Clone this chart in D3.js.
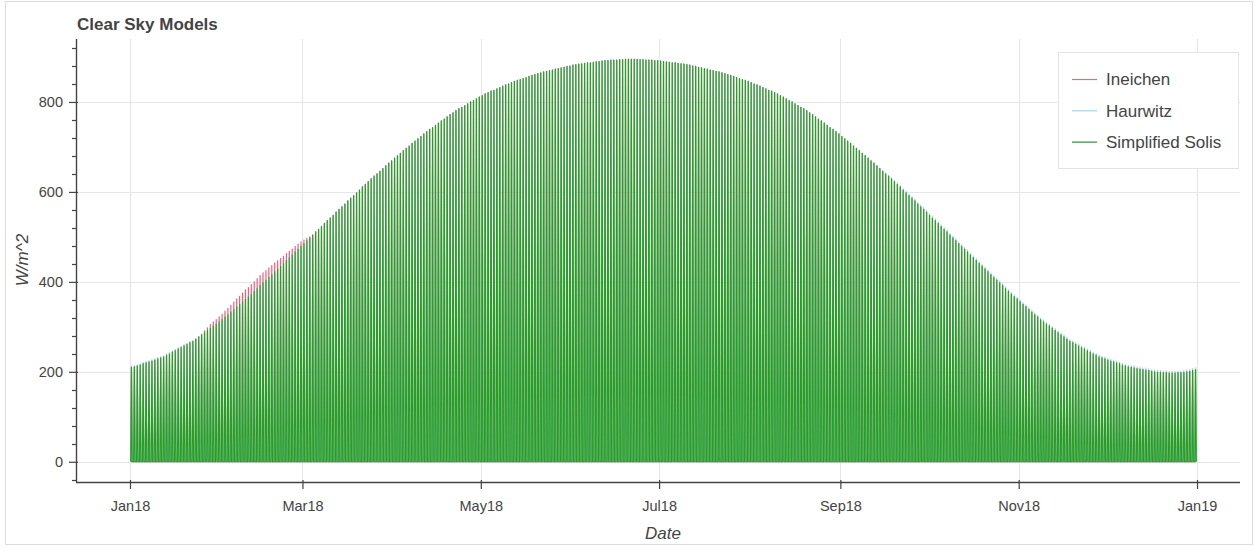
<!DOCTYPE html>
<html>
<head>
<meta charset="utf-8">
<script src="https://cdn.jsdelivr.net/npm/d3@7"></script>
<style>
  body { margin: 0; background: #fff; }
  svg { display: block; font-family: "Liberation Sans", Arial, Helvetica, sans-serif; }
</style>
</head>
<body>
<div id="chart"></div>
<script>
// Daily clear-sky peak irradiance (W/m^2), 1 Jan 2018 .. 31 Dec 2018
var startDay = "2018-01-01";

var solis = [
  210,211,213,215,218,220,222,224,226,229,231,233,237,240,244,247,251,254,258,261,265,268,273,278,282,287,292,297,302,306,311,
  316,322,327,333,339,345,350,356,362,367,373,379,385,392,398,404,410,416,423,429,435,441,448,454,460,467,473,479,
  485,492,498,504,511,517,523,530,536,542,548,555,561,567,573,580,586,592,598,604,611,617,623,629,635,640,646,652,658,664,669,
  675,681,686,692,697,702,708,713,718,723,729,734,739,743,748,753,758,762,767,772,776,781,785,788,792,796,800,803,807,811,
  814,818,821,824,826,829,832,835,838,840,843,846,848,850,852,854,857,859,861,863,865,867,868,870,871,873,874,876,877,879,880,
  882,883,884,885,886,887,887,888,889,890,891,892,892,893,893,893,894,894,895,895,895,895,895,894,894,893,893,893,892,892,
  891,890,889,888,887,887,886,885,884,883,882,880,879,877,876,874,873,871,870,868,867,865,863,861,859,857,854,852,850,848,846,
  843,840,838,835,832,829,826,824,821,818,814,811,807,803,800,796,792,788,785,781,776,772,767,762,758,753,748,743,739,734,729,
  723,718,713,708,702,697,692,686,681,675,669,664,658,652,646,640,635,629,623,617,611,604,598,592,586,580,573,567,561,555,
  548,542,536,530,523,517,511,504,498,492,485,479,473,467,460,454,448,441,435,429,423,416,410,404,398,392,385,379,373,367,362,
  356,350,345,339,333,327,322,316,311,306,302,297,292,287,282,278,273,268,265,261,258,254,251,247,244,240,237,233,231,229,
  226,224,222,220,218,215,213,211,210,209,207,206,205,204,203,201,200,199,199,198,198,197,197,197,198,198,199,200,201,203,205
];

var ineichen = [
  210,211,213,215,218,220,222,224,226,229,231,233,237,240,244,247,251,254,258,261,265,268,273,278,284,291,298,305,311,316,322,
  328,335,341,348,355,362,368,375,382,387,394,400,407,414,420,425,431,436,442,447,452,457,463,468,473,479,484,489,
  493,497,500,504,511,517,523,530,536,542,548,555,561,567,573,580,586,592,598,604,611,617,623,629,635,640,646,652,658,664,669,
  675,681,686,692,697,702,708,713,718,723,729,734,739,743,748,753,758,762,767,772,776,781,785,788,792,796,800,803,807,811,
  814,818,821,824,826,829,832,835,838,840,843,846,848,850,852,854,857,859,861,863,865,867,868,870,871,873,874,876,877,879,880,
  882,883,884,885,886,887,887,888,889,890,891,892,892,893,893,893,894,894,895,895,895,895,895,894,894,893,893,893,892,892,
  891,890,889,888,887,887,886,885,884,883,882,880,879,877,876,874,873,871,870,868,867,865,863,861,859,857,854,852,850,848,846,
  843,840,838,835,832,829,826,824,821,818,814,811,807,803,800,796,792,788,785,781,776,772,767,762,758,753,748,743,739,734,729,
  723,718,713,708,702,697,692,686,681,675,669,664,658,652,646,640,635,629,623,617,611,604,598,592,586,580,573,567,561,555,
  548,542,536,530,523,517,511,504,498,492,485,479,473,467,460,454,448,441,435,429,423,416,410,404,398,392,385,379,373,367,362,
  356,350,345,339,333,327,322,316,311,306,302,297,292,287,282,278,273,268,265,261,258,254,251,247,244,240,237,233,231,229,
  226,224,222,220,218,215,213,211,210,209,207,206,205,204,203,201,200,199,199,198,198,197,197,197,198,198,199,200,201,203,205
];

var haurwitz = [
  213,214,216,218,221,223,225,227,229,232,234,236,240,243,247,250,254,257,261,264,268,270,274,278,282,287,292,297,302,306,311,
  316,322,327,333,339,345,350,356,362,367,373,379,385,392,398,404,410,416,423,429,435,441,448,454,460,467,473,479,
  485,492,498,504,511,517,523,530,536,542,548,555,561,567,573,580,586,592,598,604,611,617,623,629,635,640,646,652,658,664,669,
  675,681,686,692,697,702,708,713,718,723,729,734,739,743,748,753,758,762,767,772,776,781,785,788,792,796,800,803,807,811,
  814,818,821,824,826,829,832,835,838,840,843,846,848,850,852,854,857,859,861,863,865,867,868,870,871,873,874,876,877,879,880,
  882,883,884,885,886,887,887,888,889,890,891,892,892,893,893,893,894,894,895,895,895,895,895,894,894,893,893,893,892,892,
  891,890,889,888,887,887,886,885,884,883,882,880,879,877,876,874,873,871,870,868,867,865,863,861,859,857,854,852,850,848,846,
  843,840,838,835,832,829,826,824,821,818,814,811,807,803,800,796,792,788,785,781,776,772,767,762,758,753,748,743,739,734,729,
  723,718,713,708,702,697,692,686,681,675,669,664,659,653,648,642,637,632,626,620,614,607,602,596,590,584,577,571,565,559,
  552,546,540,534,527,521,515,508,502,496,489,483,477,471,464,458,452,445,439,433,427,420,414,408,402,396,389,383,377,371,366,
  360,354,349,343,337,331,326,320,315,310,306,301,296,291,286,282,277,272,269,265,262,258,255,251,248,244,241,237,235,233,
  230,228,226,224,222,219,217,215,214,213,211,210,209,208,207,205,204,203,203,202,202,201,201,201,202,202,203,204,205,207,209
];

var seriesNames = ["Ineichen", "Haurwitz", "Simplified Solis"];
var seriesColors = ["#f0607a", "#a9d8e8", "#24a024"];
var legendColors = ["#d8707e", "#a9d4e0", "#2e8b3e"];
var xTickDates = ["2018-01-01", "2018-03-01", "2018-05-01", "2018-07-01", "2018-09-01", "2018-11-01", "2019-01-01"];
var yTicks = [0, 200, 400, 600, 800];

var width = 1255, height = 551;
var plot = { left: 76, right: 1240, top: 39, bottom: 482 };

var svg = d3.select("#chart").append("svg")
    .attr("width", width)
    .attr("height", height);

// thin frame round the whole figure
svg.append("rect")
    .attr("x", 5.5).attr("y", 1.5)
    .attr("width", 1247).attr("height", 543)
    .attr("fill", "none")
    .attr("stroke", "#dcdcdc");

var parse = d3.utcParse("%Y-%m-%d");
var t0 = parse(startDay);

var x = d3.scaleUtc()
    .domain([t0, parse("2019-01-01")])
    .range([130, 1197]);
var y = d3.scaleLinear()
    .domain([-45, 940])
    .range([plot.bottom, plot.top]);

// grid
svg.append("g")
    .selectAll("line")
    .data(xTickDates.map(parse))
    .join("line")
      .attr("x1", d => Math.round(x(d)) + 0.5).attr("x2", d => Math.round(x(d)) + 0.5)
      .attr("y1", plot.top).attr("y2", plot.bottom)
      .attr("stroke", "#e6e6e6");
svg.append("g")
    .selectAll("line")
    .data(yTicks)
    .join("line")
      .attr("y1", d => Math.round(y(d)) + 0.5).attr("y2", d => Math.round(y(d)) + 0.5)
      .attr("x1", plot.left).attr("x2", plot.right)
      .attr("stroke", "#e6e6e6");

// one spike per day: zero before sunrise, peak at noon, zero after sunset
function spikes(values) {
    var pts = [];
    values.forEach(function (v, i) {
        var day = d3.utcDay.offset(t0, i);
        pts.push([d3.utcHour.offset(day, 6), 0]);
        pts.push([d3.utcHour.offset(day, 12), v]);
        pts.push([d3.utcHour.offset(day, 18), 0]);
    });
    return pts;
}

var line = d3.line()
    .x(d => x(d[0]))
    .y(d => y(d[1]));

[ineichen, haurwitz, solis].forEach(function (vals, k) {
    svg.append("path")
        .datum(spikes(vals))
        .attr("fill", "none")
        .attr("stroke", seriesColors[k])
        .attr("stroke-width", 1.2)
        .attr("stroke-linejoin", "round")
        .attr("d", line);
});

// axes
var xAxis = svg.append("g")
    .attr("transform", `translate(0,${plot.bottom})`)
    .call(d3.axisBottom(x)
        .tickValues(xTickDates.map(parse))
        .tickFormat(d3.utcFormat("%b%y"))
        .tickSizeInner(7).tickSizeOuter(0).tickPadding(12));
xAxis.select(".domain").remove();
xAxis.selectAll(".tick line").attr("y1", -2).attr("stroke", "#444").attr("stroke-width", 1.2);
xAxis.selectAll("text").attr("font-size", 14.5).attr("fill", "#444").attr("font-family", "Liberation Sans, Arial, sans-serif");
svg.append("line")
    .attr("x1", plot.left).attr("x2", plot.right)
    .attr("y1", plot.bottom + 0.5).attr("y2", plot.bottom + 0.5)
    .attr("stroke", "#444").attr("stroke-width", 1.4);

var yAxis = svg.append("g")
    .attr("transform", `translate(${plot.left},0)`)
    .call(d3.axisLeft(y)
        .tickValues(yTicks)
        .tickSizeInner(7).tickSizeOuter(0).tickPadding(6));
yAxis.select(".domain").remove();
yAxis.selectAll(".tick line").attr("x1", 2).attr("stroke", "#444").attr("stroke-width", 1.2);
yAxis.selectAll("text").attr("font-size", 14.5).attr("fill", "#444").attr("font-family", "Liberation Sans, Arial, sans-serif");

// minor ticks on y
svg.append("g")
    .selectAll("line")
    .data(d3.range(-40, 941, 40).filter(v => v % 200 !== 0))
    .join("line")
      .attr("x1", plot.left - 4).attr("x2", plot.left)
      .attr("y1", d => Math.round(y(d)) + 0.5).attr("y2", d => Math.round(y(d)) + 0.5)
      .attr("stroke", "#444").attr("stroke-width", 1.2);
svg.append("line")
    .attr("x1", plot.left + 0.5).attr("x2", plot.left + 0.5)
    .attr("y1", plot.top).attr("y2", plot.bottom)
    .attr("stroke", "#444").attr("stroke-width", 1.4);

// titles
svg.append("text")
    .attr("x", 77).attr("y", 30)
    .attr("font-size", 17).attr("font-weight", "bold")
    .attr("fill", "#444")
    .text("Clear Sky Models");
svg.append("text")
    .attr("x", 663).attr("y", 539)
    .attr("text-anchor", "middle")
    .attr("font-size", 17).attr("font-style", "italic")
    .attr("fill", "#444")
    .text("Date");
svg.append("text")
    .attr("transform", "translate(28,260) rotate(-90)")
    .attr("text-anchor", "middle")
    .attr("font-size", 17).attr("font-style", "italic")
    .attr("fill", "#444")
    .text("W/m^2");

// legend
var legend = svg.append("g").attr("transform", "translate(1058,52)");
legend.append("rect")
    .attr("x", 0.5).attr("y", 0.5)
    .attr("width", 180).attr("height", 116)
    .attr("fill", "#fff")
    .attr("stroke", "#e3e3e3");
var rows = legend.selectAll("g.row")
    .data(seriesNames)
    .join("g")
      .attr("class", "row")
      .attr("transform", (d, i) => `translate(0,${27.5 + i * 31.3})`);
rows.append("line")
    .attr("x1", 14).attr("x2", 39)
    .attr("stroke", (d, i) => legendColors[i])
    .attr("stroke-width", 1.2);
rows.append("text")
    .attr("x", 48)
    .attr("dy", "0.35em")
    .attr("font-size", 17)
    .attr("fill", "#444")
    .text(d => d);
</script>
</body>
</html>
